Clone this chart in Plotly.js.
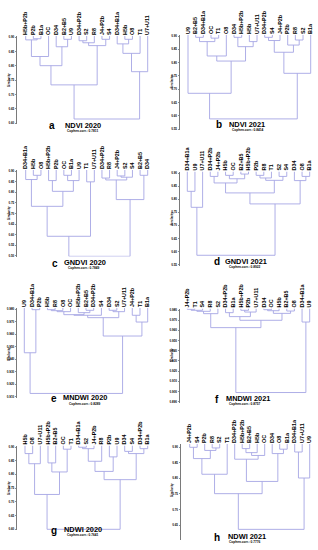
<!DOCTYPE html>
<html><head><meta charset="utf-8">
<script src="https://cdn.plot.ly/plotly-3.0.1.min.js"></script>
<style>html,body{margin:0;padding:0;background:#fff;}</style>
</head><body><div id="chart" style="width:318px;height:550px;"></div>
<script>
// ---------------- DATA ----------------
// leaves in display order; merges: [childA, childB, height] (negative = leaf number, positive = earlier merge row)
const leavesA = ['H5b+P2b','P2b','B1a','OC','D34','B2+B5','U9','D34+P2b','S2','R8','J4+P2b','S4','D34+B1a','H5b','O8','T1','U7+U11'];
const mergesA = [[-2,-3,0.895],[-1,1,0.891],[2,-4,0.833],[-6,-7,0.893],[-5,4,0.867],[3,5,0.801],[-8,-9,0.888],[7,-10,0.881],[-11,-12,0.893],[8,9,0.871],[6,10,0.734],[-14,-15,0.893],[-13,12,0.877],[13,-16,0.844],[14,-17,0.780],[11,15,0.615]];
const ticksA = [0.90,0.85,0.80,0.75,0.70,0.65,0.60];

const leavesB = ['U9','B2+B5','D34+B1a','OC','T1','O8','D34','H5b+P2b','H5b','U7+U11','D34+P2b','S4','J4+P2b','P2b','R8','S2','B1a'];
const mergesB = [[-2,-3,0.895],[-4,-5,0.892],[1,2,0.879],[3,-6,0.825],[-7,-8,0.895],[-9,-10,0.879],[5,6,0.860],[4,7,0.806],[-1,8,0.685],[-11,-12,0.895],[10,-13,0.883],[-15,-16,0.885],[-14,12,0.866],[11,13,0.839],[14,-17,0.760],[9,15,0.589]];
const ticksB = [0.90,0.85,0.80,0.75,0.70,0.65,0.60,0.55];

const leavesC = ['D34+B1a','H5b','O8','H5b+P2b','P2b','OC','B1a','U9','T1','U7+U11','D34+P2b','R8','J4+P2b','S2','S4','B2+B5','D34'];
const mergesC = [[-2,-3,0.881],[-1,1,0.861],[-4,-5,0.856],[-6,-7,0.881],[4,-8,0.856],[3,5,0.805],[2,6,0.734],[-9,-10,0.850],[7,8,0.592],[-11,-12,0.868],[-13,-14,0.878],[11,-15,0.872],[10,12,0.859],[-16,-17,0.881],[13,14,0.766],[9,15,0.497]];
const ticksC = [0.90,0.85,0.80,0.75,0.70,0.65,0.60,0.55,0.50];

const leavesD = ['D34+B1a','U9','U7+U11','D34+P2b','J4+P2b','H5b','OC','B2+B5','H5b+P2b','P2b','R8','T1','S2','S4','D34','O8','B1a'];
const mergesD = [[-1,-2,0.830],[1,-3,0.769],[-4,-5,0.887],[-6,-7,0.891],[-8,-9,0.896],[4,5,0.878],[3,6,0.862],[-10,-11,0.891],[8,-12,0.881],[-13,-14,0.887],[9,10,0.872],[7,11,0.824],[-16,-17,0.887],[-15,13,0.871],[12,14,0.782],[2,15,0.586]];
const ticksD = [0.90,0.85,0.80,0.75,0.70,0.65,0.60,0.55];

const leavesE = ['U9','D34+B1a','P2b','H5b','R8','O8','OC','H5b+P2b','B2+B5','D34+P2b','S4','D34','S2','U7+U11','J4+P2b','T1','B1a'];
const mergesE = [[-2,-3,0.9797],[-1,1,0.9452],[-4,-5,0.9797],[3,-6,0.9789],[4,-7,0.9781],[-9,-10,0.9792],[-8,6,0.9773],[5,7,0.9757],[8,-11,0.9752],[-12,-13,0.9792],[10,-14,0.9781],[9,11,0.9733],[-15,-16,0.9752],[13,-17,0.9698],[12,14,0.9586],[2,15,0.9126]];
const ticksE = [0.980,0.970,0.960,0.950,0.940,0.930,0.920,0.910];

const leavesF = ['J4+P2b','T1','S4','R8','S2','D34+P2b','B1a','H5b+P2b','P2b','U7+U11','D34','OC','H5b','B2+B5','O8','D34+B1a','U9'];
const mergesF = [[-1,-2,0.9807],[1,-3,0.9797],[2,-4,0.9787],[3,-5,0.9764],[-6,-7,0.9774],[-8,-9,0.9797],[6,-10,0.9780],[5,7,0.9735],[-11,-12,0.9803],[9,-13,0.9793],[-14,-15,0.9790],[10,11,0.9767],[8,12,0.9699],[4,13,0.9627],[-16,-17,0.9682],[14,15,0.8990]];
const ticksF = [0.980,0.970,0.960,0.950,0.940,0.930,0.920,0.910,0.900,0.890];

const leavesG = ['H5b','O8','U7+U11','H5b+P2b','B2+B5','OC','T1','D34+B1a','S2','J4+P2b','R8','P2b','U9','D34','S4','D34+P2b','B1a'];
const mergesG = [[-1,-2,0.876],[1,-3,0.839],[-4,-5,0.842],[-6,-7,0.892],[3,4,0.809],[2,5,0.727],[-8,-9,0.899],[7,-10,0.894],[8,-11,0.848],[-12,-13,0.864],[9,10,0.811],[-14,-15,0.884],[-16,-17,0.894],[12,13,0.876],[11,14,0.781],[6,15,0.600]];
const ticksG = [0.90,0.85,0.80,0.75,0.70,0.65,0.60];

const leavesH = ['J4+P2b','S4','P2b','R8','S2','T1','D34+P2b','H5b+P2b','B2+B5','H5b','OC','D34','O8','B1a','D34+B1a','U7+U11','U9'];
const mergesH = [[-1,-2,0.899],[-4,-5,0.897],[-3,2,0.889],[1,3,0.863],[4,-6,0.813],[-8,-9,0.895],[6,-10,0.882],[7,-11,0.873],[-7,8,0.861],[-13,-14,0.893],[-12,10,0.879],[9,11,0.790],[5,12,0.751],[-15,-16,0.884],[14,-17,0.801],[13,15,0.637]];
const ticksH = [0.90,0.85,0.80,0.75,0.70,0.65];

const panelLetters = ['a','b','c','d','e','f','g','h'];
const panelTitles = ['NDVI 2020','NDVI 2021','GNDVI 2020','GNDVI 2021','MNDWI 2020','MNDWI 2021','NDWI 2020','NDWI 2021'];
const cophenCorr = ['0.7811','0.8414','0.7849','0.8922','0.8289','0.8757','0.7641','0.7776'];
const yAxisLabel = 'Similarity';

// ---------------- LAYOUT (pixel geometry) ----------------
const W = 318, H = 550;
const geo = [
 {ax:17,   l0:25.7,  l1:147.7, r:152, tTopY:37.3,  tBotY:123.3, pTop:36,    pBot:124,   fmt:'.2f', let:[52,125.5],  tit:[82.5,125], sub:[82.5,131.3], sim:[9,80]},
 {ax:179.7,l0:188,   l1:310.7, r:314, tTopY:36,    tBotY:129.3, pTop:35,    pBot:129.8, fmt:'.2f', let:[219,124.5], tit:[247,124],  sub:[248,130.2],  sim:[171.5,82]},
 {ax:17,   l0:25.7,  l1:147.7, r:152, tTopY:171.3, tBotY:255.7, pTop:170,   pBot:256.5, fmt:'.2f', let:[54.5,263],  tit:[85,262.3], sub:[84,268.3],   sim:[9,213]},
 {ax:179.7,l0:187.3, l1:309.7, r:314, tTopY:173,   tBotY:264.7, pTop:171.5, pBot:265.5, fmt:'.2f', let:[217,261.5], tit:[246,261.3],sub:[245,267.2],  sim:[171.5,219]},
 {ax:17,   l0:24.3,  l1:147.7, r:152, tTopY:309.3, tBotY:396.7, pTop:308,   pBot:397.5, fmt:'.3f', let:[53.5,398.5],tit:[84.5,397.8],sub:[85,403.8],  sim:[9,354]},
 {ax:179.7,l0:187.3, l1:309.7, r:314, tTopY:310,   tBotY:401.7, pTop:308.5, pBot:402.5, fmt:'.3f', let:[216.5,399], tit:[248,398.2],sub:[245,404],    sim:[172,355]},
 {ax:17,   l0:25,    l1:147.7, r:152, tTopY:447,   tBotY:529.3, pTop:445.5, pBot:530,   fmt:'.2f', let:[53.5,530.5],tit:[83,529],   sub:[82.7,535],   sim:[9,488]},
 {ax:180.7,l0:189.7, l1:309.7, r:314, tTopY:447,   tBotY:525.3, pTop:444,   pBot:540.3, fmt:'.2f', let:[216.5,537.5],tit:[247,536], sub:[244.7,542],  sim:[172,490]}
];

const allLeaves = [leavesA,leavesB,leavesC,leavesD,leavesE,leavesF,leavesG,leavesH];
const allMerges = [mergesA,mergesB,mergesC,mergesD,mergesE,mergesF,mergesG,mergesH];
const allTicks  = [ticksA,ticksB,ticksC,ticksD,ticksE,ticksF,ticksG,ticksH];

const lineColor = 'rgb(166,166,228)';
const fontFam = 'Liberation Sans, Arial, sans-serif';

function dendro(merges, top) {
  const nx = [], nh = [], xs = [], ys = [];
  const pos = id => id < 0 ? [-id, top] : [nx[id-1], nh[id-1]];
  merges.forEach(([a,b,h]) => {
    const [xa,ha] = pos(a), [xb,hb] = pos(b);
    xs.push(xa,xa,xb,xb,null); ys.push(ha,h,h,hb,null);
    nx.push((xa+xb)/2); nh.push(h);
  });
  return {xs, ys};
}

const traces = [], annotations = [];
const layout = {
  width: W, height: H, margin:{l:0,r:0,t:0,b:0},
  paper_bgcolor:'#fff', plot_bgcolor:'rgba(0,0,0,0)', showlegend:false,
  font:{family:fontFam, color:'#000'}
};

geo.forEach((g, i) => {
  const k = i === 0 ? '' : String(i+1);
  const leaves = allLeaves[i], ticks = allTicks[i], n = leaves.length;
  const u = (g.l1 - g.l0) / (n - 1);
  const xr = [1 - (g.l0 - g.ax)/u, n + (g.r - g.l1)/u];
  const tTop = ticks[0], tBot = ticks[ticks.length-1];
  const v = (tTop - tBot) / (g.tBotY - g.tTopY);
  const yr = [tBot - (g.pBot - g.tBotY)*v, tTop + (g.tTopY - g.pTop)*v];
  const d = dendro(allMerges[i], yr[1]);
  traces.push({type:'scatter', mode:'lines', x:d.xs, y:d.ys, xaxis:'x'+k, yaxis:'y'+k,
    line:{color:lineColor, width:0.9}, hoverinfo:'skip', connectgaps:false});
  layout['xaxis'+k] = {
    domain:[g.ax/W, g.r/W], range:xr, anchor:'y'+k, side:'top',
    showgrid:false, zeroline:false, showline:false, ticks:'',
    tickmode:'array', tickvals:leaves.map((_,j)=>j+1), ticktext:leaves,
    tickangle:-90, tickfont:{size:5.4, weight:'bold', family:fontFam, color:'#000'},
    fixedrange:true
  };
  layout['yaxis'+k] = {
    domain:[1 - g.pBot/H, 1 - g.pTop/H], range:yr, anchor:'x'+k,
    showgrid:false, zeroline:false, showline:true, linecolor:'#222', linewidth:0.6,
    ticks:'outside', ticklen:1.5, tickwidth:0.5, tickcolor:'#222',
    tickmode:'array', tickvals:ticks, tickformat:g.fmt,
    tickfont:{size:3, weight:'bold', family:fontFam, color:'#000'}, fixedrange:true
  };
  const P = (x,y) => ({x:x/W, y:1-y/H});
  const base = {xref:'paper', yref:'paper', showarrow:false, xanchor:'center', yanchor:'middle', borderpad:0};
  annotations.push(Object.assign(P(...g.let), base, {text:panelLetters[i],
    font:{size:10, weight:'bold', family:fontFam}}));
  annotations.push(Object.assign(P(...g.tit), base, {text:panelTitles[i],
    font:{size:7.4, weight:'bold', family:fontFam}}));
  annotations.push(Object.assign(P(...g.sub), base, {text:'Cophen.corr.: '+cophenCorr[i],
    font:{size:3.2, weight:'bold', family:fontFam}}));
  annotations.push(Object.assign(P(...g.sim), base, {text:yAxisLabel, textangle:-90,
    font:{size:3, weight:'bold', family:fontFam}}));
});
layout.annotations = annotations;

Plotly.newPlot('chart', traces, layout, {displayModeBar:false, staticPlot:true});
</script></body></html>
